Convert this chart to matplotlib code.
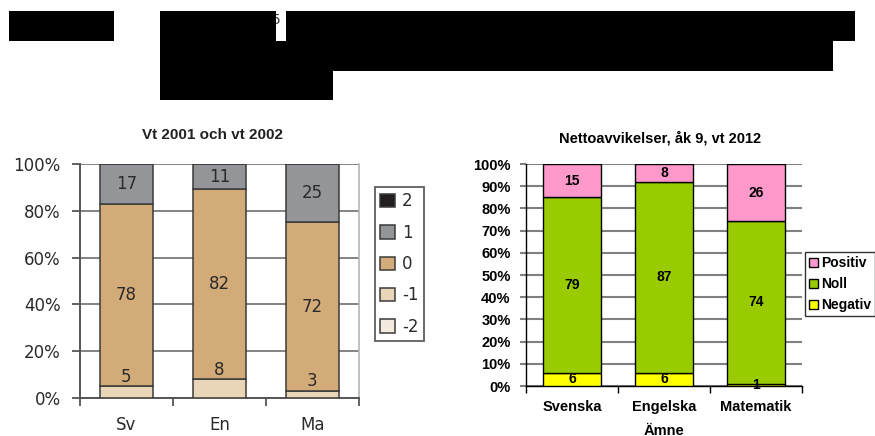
import matplotlib
matplotlib.use("Agg")
import matplotlib.pyplot as plt
from matplotlib.patches import Rectangle
import numpy as np

# ---------------- data ----------------
left_title = "Vt 2001 och vt 2002"
left_categories = ["Sv", "En", "Ma"]
left_series = ["-2", "-1", "0", "1", "2"]
left_m2 = [0, 0, 0]
left_m1 = [5, 8, 3]
left_zero = [78, 82, 72]
left_p1 = [17, 11, 25]
left_p2 = [0, 0, 0]
left_colors = ["#f3ebdf", "#e9d5b8", "#d3ab79", "#939598", "#231f20"]
left_yticks = [0, 20, 40, 60, 80, 100]

right_title = "Nettoavvikelser, åk 9, vt 2012"
right_categories = ["Svenska", "Engelska", "Matematik"]
right_series = ["Negativ", "Noll", "Positiv"]
right_neg = [6, 6, 1]
right_noll = [79, 87, 74]
right_pos = [15, 8, 26]
right_colors = ["#ffff00", "#99cc00", "#ff99cc"]
right_xlabel = "Ämne"
right_yticks = [0, 10, 20, 30, 40, 50, 60, 70, 80, 90, 100]

W, H = 875, 436
fig = plt.figure(figsize=(W / 100, H / 100), dpi=100)


def fr(x0, y0, x1, y1):
    """pixel box (top-left origin) -> figure rect"""
    return [x0 / W, 1 - y1 / H, (x1 - x0) / W, (y1 - y0) / H]


# ---------------- left chart ----------------
axL = fig.add_axes(fr(80, 164, 359, 398))
lvals = np.array([left_m2, left_m1, left_zero, left_p1, left_p2], dtype=float)
ltot = lvals.sum(axis=0)
lpct = lvals / ltot * 100
xL = np.arange(len(left_categories)) + 0.5
bottom = np.zeros(len(left_categories))
handlesL = []
for i, name in enumerate(left_series):
    b = axL.bar(xL, lpct[i], 0.56, bottom=bottom, color=left_colors[i],
                edgecolor="#3a3a3a", linewidth=1.1, label=name, zorder=3)
    handlesL.append(b)
    for j in range(len(xL)):
        v = lvals[i, j]
        if v == 0:
            continue
        if name == "-1":
            axL.annotate(f"{int(v)}", (xL[j], bottom[j] + lpct[i, j]),
                         xytext=(0, 7), textcoords="offset points",
                         ha="center", va="center", fontsize=12,
                         color="#2a2a2a", zorder=5)
        else:
            axL.text(xL[j], bottom[j] + lpct[i, j] / 2, f"{int(v)}",
                     ha="center", va="center", fontsize=12,
                     color="#2a2a2a", zorder=5)
    bottom = bottom + lpct[i]

axL.set_xlim(0, 3)
axL.set_ylim(0, 100)
axL.set_yticks(left_yticks)
axL.set_yticklabels([f"{t}%" for t in left_yticks], fontsize=12, color="#2a2a2a")
axL.set_xticks([0, 1, 2, 3])
axL.set_xticklabels([])
axL.set_xticks(xL, minor=True)
axL.set_xticklabels(left_categories, minor=True, fontsize=12, color="#2a2a2a")
axL.tick_params(axis="x", which="minor", length=0, pad=13)
axL.tick_params(axis="x", which="major", length=6, width=1.3, color="#555555")
axL.tick_params(axis="y", length=6, width=1.3, color="#555555", pad=8)
axL.yaxis.grid(True, color="#7a7a7a", linewidth=1.3)
axL.set_axisbelow(True)
axL.spines["top"].set_visible(False)
axL.spines["right"].set_color("#b5b5b5")
axL.spines["right"].set_linewidth(1.2)
axL.spines["left"].set_color("#555555")
axL.spines["left"].set_linewidth(1.4)
axL.spines["bottom"].set_color("#555555")
axL.spines["bottom"].set_linewidth(1.4)

fig.text(212 / W, 1 - 135 / H, left_title, ha="center", va="center",
         fontsize=11, fontweight="bold", color="#222222",
         family="Liberation Sans")

legL = fig.legend(handlesL[::-1], left_series[::-1], loc="upper left",
                  bbox_to_anchor=(375 / W, 1 - 187 / H), fontsize=12,
                  frameon=True, fancybox=False, edgecolor="#444444",
                  handlelength=0.85, handleheight=0.85, handletextpad=0.45,
                  labelspacing=0.8, borderpad=0.32, borderaxespad=0)
legL.get_frame().set_linewidth(1.4)
for t in legL.get_texts():
    t.set_color("#2a2a2a")

# ---------------- right chart ----------------
axR = fig.add_axes(fr(526, 164, 802, 386))
rvals = np.array([right_neg, right_noll, right_pos], dtype=float)
rtot = rvals.sum(axis=0)
rpct = rvals / rtot * 100
xR = np.arange(len(right_categories)) + 0.5
bottom = np.zeros(len(right_categories))
handlesR = []
for i, name in enumerate(right_series):
    b = axR.bar(xR, rpct[i], 0.62, bottom=bottom, color=right_colors[i],
                edgecolor="black", linewidth=1.0, label=name, zorder=3)
    handlesR.append(b)
    for j in range(len(xR)):
        axR.text(xR[j], bottom[j] + rpct[i, j] / 2, f"{int(rvals[i, j])}",
                 ha="center", va="center", fontsize=10, fontweight="bold",
                 family="Liberation Sans", color="black", zorder=5)
    bottom = bottom + rpct[i]

axR.set_xlim(0, 3)
axR.set_ylim(0, 100)
axR.set_yticks(right_yticks)
axR.set_yticklabels([f"{t}%" for t in right_yticks], fontsize=10.5,
                    fontweight="bold", family="Liberation Sans")
axR.set_xticks([0, 1, 2, 3])
axR.set_xticklabels([])
axR.set_xticks(xR, minor=True)
axR.set_xticklabels(right_categories, minor=True, fontsize=10.5,
                    fontweight="bold", family="Liberation Sans")
axR.tick_params(axis="x", which="minor", length=0, pad=10)
axR.tick_params(axis="x", which="major", length=5, width=1.0)
axR.tick_params(axis="y", length=4, width=1.5, color="#808080", pad=7)
axR.set_xlabel(right_xlabel, fontsize=10.5, fontweight="bold",
               family="Liberation Sans", labelpad=7)
axR.yaxis.grid(True, color="#808080", linewidth=1.5)
axR.set_axisbelow(True)
axR.spines["top"].set_visible(False)
axR.spines["right"].set_visible(False)
axR.spines["left"].set_linewidth(1.0)
axR.spines["bottom"].set_linewidth(1.0)

fig.text(660 / W, 1 - 138 / H, right_title, ha="center", va="center",
         fontsize=10.5, fontweight="bold", family="Liberation Sans")

legR = fig.legend(handlesR[::-1], right_series[::-1], loc="upper left",
                  bbox_to_anchor=(805 / W, 1 - 252 / H),
                  prop={"family": "Liberation Sans", "weight": "bold", "size": 10},
                  frameon=True, fancybox=False, edgecolor="black",
                  handlelength=0.6, handleheight=0.6, handletextpad=0.25,
                  labelspacing=0.5, borderpad=0.3, borderaxespad=0)
legR.get_frame().set_linewidth(1.0)

# ---------------- redaction boxes ----------------
fig.text(272 / W, 1 - 20 / H, "5", fontsize=10, ha="left", va="center",
         color="#333333", zorder=5)
for (x0, y0, x1, y1) in [(9, 11, 114, 41), (160, 11, 276, 41),
                         (286, 11, 855, 41), (160, 41, 833, 71),
                         (160, 71, 333, 100)]:
    r = fr(x0, y0, x1, y1)
    fig.add_artist(Rectangle((r[0], r[1]), r[2], r[3], transform=fig.transFigure,
                             facecolor="black", edgecolor="none", zorder=10))

fig.savefig("out.png", dpi=100)
